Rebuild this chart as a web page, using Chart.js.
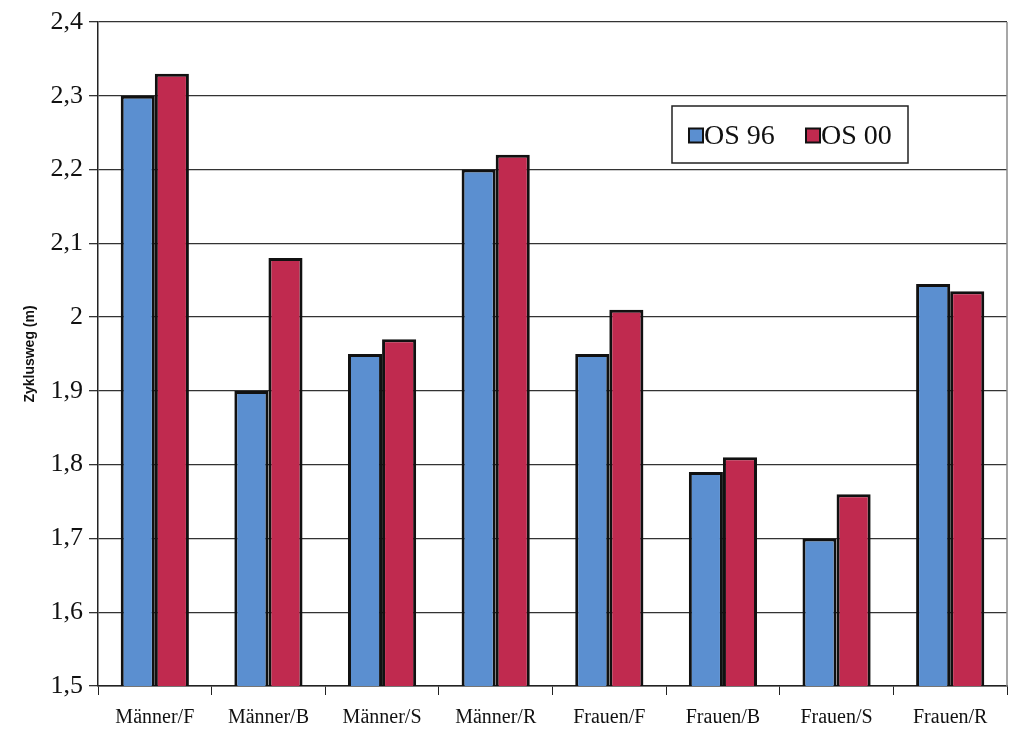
<!DOCTYPE html>
<html><head><meta charset="utf-8">
<script src="https://cdn.jsdelivr.net/npm/chart.js@4/dist/chart.umd.min.js"></script>
<style>html,body{margin:0;padding:0;background:#fff}#wrap{width:1024px;height:744px}</style>
</head><body><div id="wrap"><canvas id="c" width="1024" height="744"></canvas></div>
<script>
const categories = ['Männer/F','Männer/B','Männer/S','Männer/R','Frauen/F','Frauen/B','Frauen/S','Frauen/R'];
const os96 = [2.30, 1.90, 1.95, 2.20, 1.95, 1.79, 1.70, 2.045];
const os00 = [2.33, 2.08, 1.97, 2.22, 2.01, 1.81, 1.76, 2.035];
const seriesLabels = ['OS 96', 'OS 00'];
const yTickLabels = ['1,5','1,6','1,7','1,8','1,9','2','2,1','2,2','2,3','2,4'];
const axisTitle = 'Zyklusweg (m)';

const blue = '#5b8fd0', red = '#c02a4f';

const extras = {
  id: 'extras',
  afterDraw(chart) {
    const ctx = chart.ctx, a = chart.chartArea;
    ctx.save();
    // right border
    ctx.strokeStyle = '#8a8a8a'; ctx.lineWidth = 1.5;
    ctx.beginPath(); ctx.moveTo(a.right, a.top); ctx.lineTo(a.right, a.bottom); ctx.stroke();
    // legend box
    const bx = 672, by = 106, bw = 236, bh = 57;
    ctx.fillStyle = '#fff'; ctx.fillRect(bx, by, bw, bh);
    ctx.strokeStyle = '#222'; ctx.lineWidth = 1.5; ctx.strokeRect(bx, by, bw, bh);
    ctx.font = '28px "Liberation Serif"'; ctx.textBaseline = 'middle';
    const items = [[blue, 689], [red, 806]];
    chart.data.datasets.forEach((ds, i) => {
      const x = items[i][1], cy = by + bh / 2 + 1;
      ctx.fillStyle = ds.backgroundColor; ctx.fillRect(x, cy - 7, 14, 14);
      ctx.strokeStyle = '#111'; ctx.lineWidth = 2; ctx.strokeRect(x, cy - 7, 14, 14);
      ctx.fillStyle = '#111'; ctx.fillText(ds.label, x + 15, cy + 1);
    });
    ctx.restore();
  }
};

new Chart(document.getElementById('c'), {
  type: 'bar',
  data: {
    labels: categories,
    datasets: [
      { label: seriesLabels[0], data: os96, backgroundColor: blue, borderColor: '#111', borderWidth: 3 },
      { label: seriesLabels[1], data: os00, backgroundColor: red, borderColor: '#111', borderWidth: 3 }
    ]
  },
  options: {
    responsive: false, animation: false,
    layout: { padding: { top: 22, right: 17, left: 0, bottom: 0 } },
    plugins: { legend: { display: false }, tooltip: { enabled: false } },
    datasets: { bar: { categoryPercentage: 0.6, barPercentage: 1.0 } },
    scales: {
      x: {
        grid: { display: true, drawOnChartArea: false, color: '#222', tickLength: 9, offset: true },
        border: { color: '#222', width: 1.5 },
        ticks: { color: '#111', font: { family: 'Liberation Serif', size: 20 }, padding: 11, maxRotation: 0 },
        afterFit(s) { s.height = 58; }
      },
      y: {
        min: 1.5, max: 2.4,
        ticks: { stepSize: 0.1, color: '#111', font: { family: 'Liberation Serif', size: 26 }, padding: 6,
          callback: (v, i) => yTickLabels[i] },
        grid: { color: '#333', lineWidth: 1.3, tickLength: 9 },
        border: { color: '#222', width: 1.5 },
        title: { display: true, text: axisTitle, color: '#111', font: { family: 'Liberation Sans', size: 14, weight: 'bold' }, padding: { top: 22 } },
        afterFit(s) { s.width = 98; }
      }
    }
  },
  plugins: [extras]
});
</script></body></html>
